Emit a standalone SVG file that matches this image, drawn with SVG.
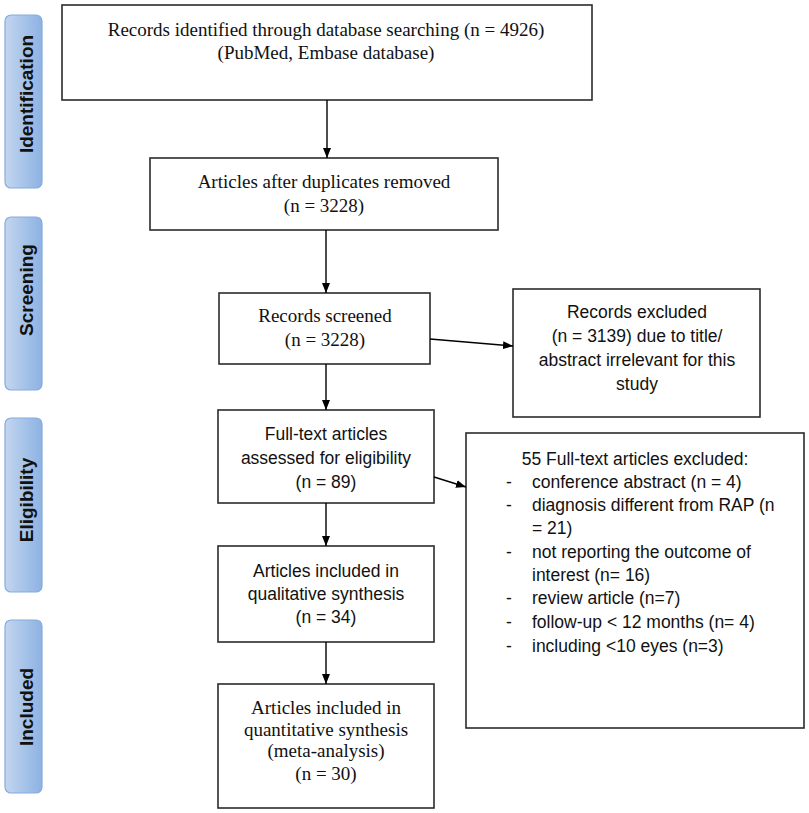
<svg xmlns="http://www.w3.org/2000/svg" width="809" height="813" viewBox="0 0 809 813">
<defs>
<linearGradient id="barGrad" x1="0" y1="0" x2="1" y2="0">
<stop offset="0" stop-color="#c3d6f0"/>
<stop offset="1" stop-color="#8db2e2"/>
</linearGradient>
<marker id="arrow" markerWidth="10" markerHeight="10" refX="10" refY="5" orient="auto" markerUnits="userSpaceOnUse">
<path d="M0,1 L10,5 L0,9 Z" fill="#000"/>
</marker>
<style>
.box{fill:#fff;stroke:#2b2b2b;stroke-width:1.6}
.bar{fill:url(#barGrad);stroke:#86acdc;stroke-width:1.2}
.serif{font-family:"Liberation Serif","Times New Roman",serif;font-size:19px;fill:#111;text-anchor:middle}
.sans{font-family:"Liberation Sans",Arial,sans-serif;font-size:17.5px;fill:#111;text-anchor:middle}
.sansl{font-family:"Liberation Sans",Arial,sans-serif;font-size:17.5px;fill:#111}
.barlbl{font-family:"Liberation Sans",Arial,sans-serif;font-size:19px;font-weight:bold;fill:#111;text-anchor:middle}
.conn{stroke:#000;stroke-width:1.4;fill:none;marker-end:url(#arrow)}
</style>
</defs>
<rect width="809" height="813" fill="#fff"/>

<g id="stage-identification">
<rect class="bar" x="5" y="15" width="37" height="173" rx="6"/>
<text class="barlbl" transform="translate(33,94) rotate(-90)">Identification</text>
</g>
<g id="stage-screening">
<rect class="bar" x="5" y="217" width="37" height="173" rx="6"/>
<text class="barlbl" transform="translate(33,290) rotate(-90)">Screening</text>
</g>
<g id="stage-eligibility">
<rect class="bar" x="5" y="418" width="37" height="174" rx="6"/>
<text class="barlbl" transform="translate(33,500) rotate(-90)">Eligibility</text>
</g>
<g id="stage-included">
<rect class="bar" x="5" y="620" width="37" height="173" rx="6"/>
<text class="barlbl" transform="translate(33,707) rotate(-90)">Included</text>
</g>

<g id="node-identified">
<rect class="box" x="62" y="5" width="530" height="95"/>
<text class="serif" x="326" y="36">Records identified through database searching (n = 4926)</text>
<text class="serif" x="326" y="59">(PubMed, Embase database)</text>
</g>
<g id="node-duplicates">
<rect class="box" x="150" y="158" width="348" height="72"/>
<text class="serif" x="324" y="188">Articles after duplicates removed</text>
<text class="serif" x="324" y="212">(n = 3228)</text>
</g>
<g id="node-screened">
<rect class="box" x="219" y="293" width="211" height="71"/>
<text class="serif" x="325" y="322">Records screened</text>
<text class="serif" x="325" y="346">(n = 3228)</text>
</g>
<g id="node-excluded">
<rect class="box" x="513" y="289" width="247" height="128"/>
<text class="sans" x="637" y="318">Records excluded</text>
<text class="sans" x="637" y="342">(n = 3139) due to title/</text>
<text class="sans" x="637" y="366">abstract irrelevant for this</text>
<text class="sans" x="637" y="390">study</text>
</g>
<g id="node-fulltext">
<rect class="box" x="218" y="410" width="216" height="93"/>
<text class="sans" x="326" y="440">Full-text articles</text>
<text class="sans" x="326" y="464">assessed for eligibility</text>
<text class="sans" x="326" y="488">(n = 89)</text>
</g>
<g id="node-fulltext-excluded">
<rect class="box" x="466" y="433" width="338" height="295"/>
<text class="sans" x="635" y="465">55 Full-text articles excluded:</text>
<text class="sansl" x="506" y="488">-</text><text class="sansl" x="532" y="488">conference abstract (n = 4)</text>
<text class="sansl" x="506" y="511">-</text><text class="sansl" x="532" y="511">diagnosis different from RAP (n</text>
<text class="sansl" x="532" y="534">= 21)</text>
<text class="sansl" x="506" y="558">-</text><text class="sansl" x="532" y="558">not reporting the outcome of</text>
<text class="sansl" x="532" y="581">interest (n= 16)</text>
<text class="sansl" x="506" y="604">-</text><text class="sansl" x="532" y="604">review article (n=7)</text>
<text class="sansl" x="506" y="628">-</text><text class="sansl" x="532" y="628">follow-up &lt; 12 months (n= 4)</text>
<text class="sansl" x="506" y="652">-</text><text class="sansl" x="532" y="652">including &lt;10 eyes (n=3)</text>
</g>
<g id="node-qualitative">
<rect class="box" x="218" y="546" width="216" height="96"/>
<text class="sans" x="326" y="577">Articles included in</text>
<text class="sans" x="326" y="600">qualitative synthesis</text>
<text class="sans" x="326" y="623">(n = 34)</text>
</g>
<g id="node-quantitative">
<rect class="box" x="218" y="684" width="216" height="124"/>
<text class="serif" x="326" y="714">Articles included in</text>
<text class="serif" x="326" y="736">quantitative synthesis</text>
<text class="serif" x="326" y="757">(meta-analysis)</text>
<text class="serif" x="326" y="780">(n = 30)</text>
</g>

<g id="connectors">
<line class="conn" x1="327" y1="100" x2="327" y2="158"/>
<line class="conn" x1="326" y1="230" x2="326" y2="293"/>
<line class="conn" x1="326" y1="364" x2="326" y2="410"/>
<line class="conn" x1="326" y1="503" x2="326" y2="546"/>
<line class="conn" x1="326" y1="642" x2="326" y2="684"/>
<line class="conn" x1="430" y1="339" x2="513" y2="346"/>
<line class="conn" x1="434" y1="477" x2="466" y2="487"/>
</g>
</svg>
